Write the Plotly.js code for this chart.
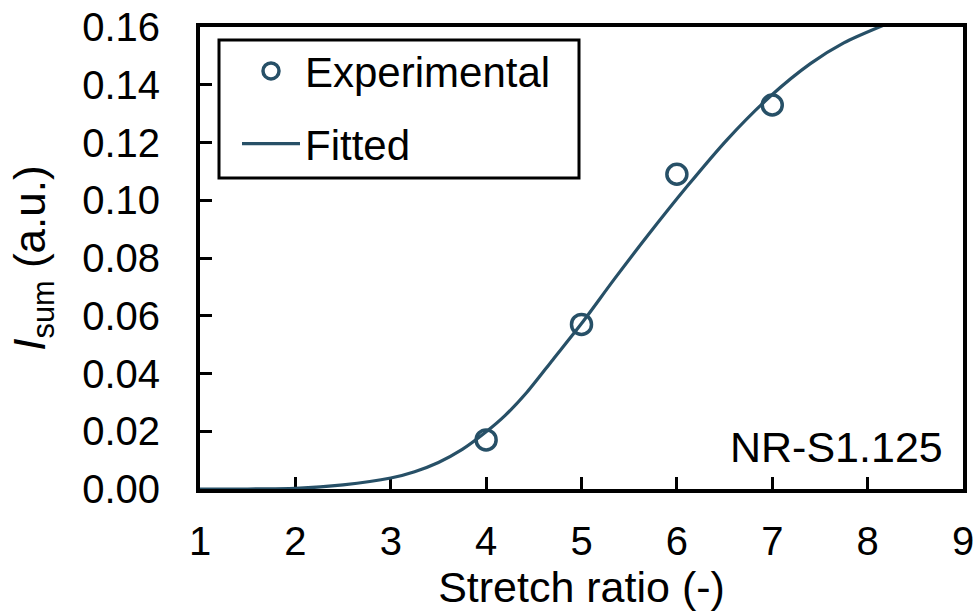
<!DOCTYPE html>
<html>
<head>
<meta charset="utf-8">
<script src="https://cdn.plot.ly/plotly-3.0.1.min.js"></script>
<style>
  html, body { margin: 0; padding: 0; background: #ffffff; }
  #chart { width: 978px; height: 612px; }
</style>
</head>
<body>
<div id="chart"></div>
<script>
// Measured intensity sum against stretch ratio
const expStretch = [4, 5, 6, 7];
const expIsum = [0.017, 0.057, 0.109, 0.133];

// Fitted curve, sampled along its length
const fitStretch = [1, 1.5, 2, 2.5, 3, 3.25, 3.5, 3.75, 4, 4.2, 4.43, 4.7, 5, 5.34, 5.69, 6.11, 6.53, 6.98, 7.4, 7.75, 8.21];
const fitIsum = [0, 0, 0.0002, 0.0014, 0.0038, 0.0060, 0.0092, 0.0137, 0.0198, 0.0255, 0.0336, 0.0448, 0.0573, 0.0725, 0.0876, 0.1049, 0.1211, 0.1360, 0.1473, 0.1545, 0.1612];

const xTicks = [1, 2, 3, 4, 5, 6, 7, 8, 9];
const yTicks = [0, 0.02, 0.04, 0.06, 0.08, 0.10, 0.12, 0.14, 0.16];

const seriesColor = '#275067';
const fontFamily = '"Liberation Sans", Arial, sans-serif';
const tickSize = 40;
const titleSize = 43;
const legendSize = 42;

const traces = [
  {
    x: expStretch, y: expIsum,
    type: 'scatter', mode: 'markers', name: 'Experimental',
    legendgroup: 'a',
    marker: { symbol: 'circle-open', size: 20, color: seriesColor, line: { width: 3.5, color: seriesColor } },
    cliponaxis: false
  },
  {
    x: fitStretch, y: fitIsum,
    type: 'scatter', mode: 'lines', name: 'Fitted',
    legendgroup: 'b',
    line: { color: seriesColor, width: 3.2, shape: 'spline', smoothing: 0.8 }
  }
];

const axisCommon = {
  showgrid: false, zeroline: false,
  showline: true, linecolor: '#000', linewidth: 4, mirror: true,
  ticks: 'inside', ticklen: 12, tickwidth: 3, tickcolor: '#000',
  tickfont: { family: fontFamily, size: tickSize, color: '#000' },
  layer: 'below traces'
};

const layout = {
  width: 978, height: 612,
  margin: { l: 200, r: 15, t: 27, b: 123 },
  paper_bgcolor: '#fff', plot_bgcolor: '#fff',
  font: { family: fontFamily, size: tickSize, color: '#000' },
  xaxis: Object.assign({}, axisCommon, {
    range: [1, 9], tickvals: xTicks, ticktext: xTicks.map(String),
    ticklabelstandoff: 14,
    title: { text: 'Stretch ratio (-)', font: { family: fontFamily, size: titleSize, color: '#000' }, standoff: 2 }
  }),
  yaxis: Object.assign({}, axisCommon, {
    range: [0, 0.16], tickvals: yTicks, ticktext: yTicks.map(v => v.toFixed(2)),
    ticklabelstandoff: 28,
    title: { text: '<i>I</i><sub>sum</sub> (a.u.)', font: { family: fontFamily, size: 44, color: '#000' }, standoff: 24 }
  }),
  showlegend: true,
  legend: {
    x: (237 - 200) / 763, y: 0.978, xanchor: 'left', yanchor: 'top',
    bgcolor: 'rgba(0,0,0,0)', borderwidth: 0,
    font: { family: fontFamily, size: legendSize, color: '#000' },
    itemwidth: 58, tracegroupgap: 15, traceorder: 'grouped'
  },
  shapes: [
    { type: 'rect', xref: 'paper', yref: 'paper',
      x0: (219 - 200) / 763, x1: (579 - 200) / 763,
      y0: (489 - 178) / 462, y1: (489 - 40) / 462,
      line: { color: '#000', width: 3 }, fillcolor: 'rgba(0,0,0,0)', layer: 'above' }
  ],
  annotations: [
    { text: 'NR-S1.125', xref: 'paper', yref: 'paper', x: 0.976, y: 0.091,
      xanchor: 'right', yanchor: 'middle', showarrow: false,
      font: { family: fontFamily, size: titleSize, color: '#000' } }
  ]
};

Plotly.newPlot('chart', traces, layout, { displayModeBar: false, staticPlot: true });
</script>
</body>
</html>
